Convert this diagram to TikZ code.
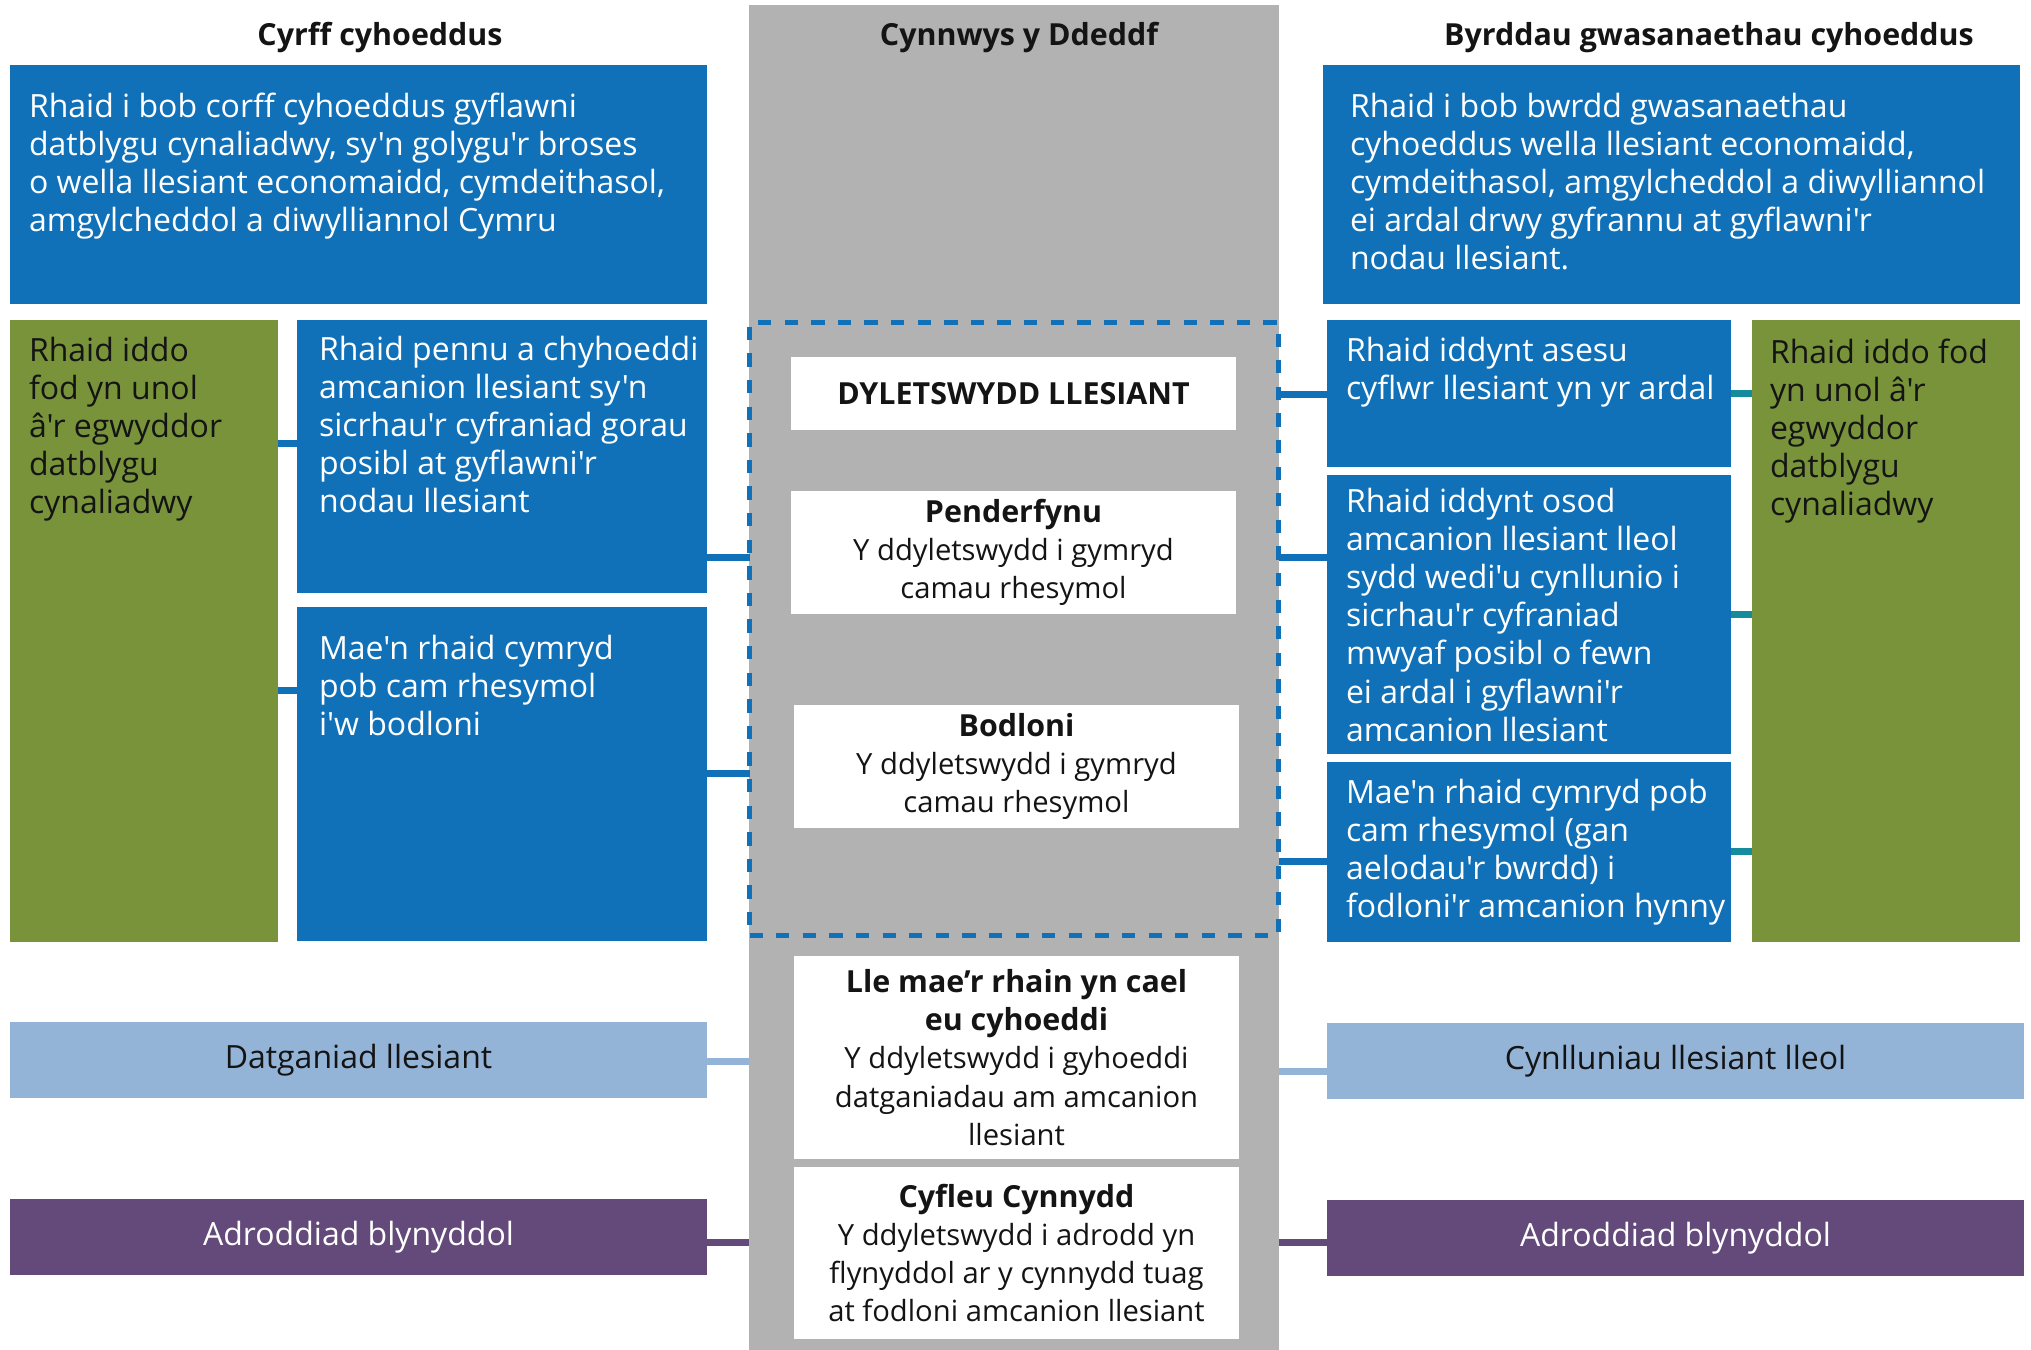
\documentclass[tikz,border=0pt]{standalone}
\usepackage{fontspec}
\setmainfont{Open Sans}[Ligatures=TeXOff]
\definecolor{cblue}{RGB}{16,113,185}
\definecolor{cgreen}{RGB}{120,147,57}
\definecolor{cgray}{RGB}{178,178,178}
\definecolor{clight}{RGB}{148,180,215}
\definecolor{cpurple}{RGB}{99,74,122}
\definecolor{cteal}{RGB}{20,140,155}
\definecolor{ctext}{RGB}{20,20,20}
\newcommand\mkbox[7]{\node[anchor=north west, minimum width={(#4-#2)*0.5pt}, minimum height={(#5-#3)*0.5pt}, #6] (#1) at (#2,#3) {#7};}
\newcommand\fl{\rule{0pt}{14pt}}
\newcommand\hd[1]{{\fontsize{15.2}{19.1}\selectfont\bfseries #1}}
\begin{document}
\begin{tikzpicture}[x=0.5pt,y=-0.5pt,
  every node/.style={font=\fontsize{16}{19.1}\selectfont, inner sep=0pt, outer sep=0pt, text=ctext},
  conn/.style={line width=3.5pt},
  whitebox/.style={fill=white, align=center, font=\fontsize{14.6}{19.1}\selectfont},
  bluebox/.style={fill=cblue},
  greenbox/.style={fill=cgreen},
  lightbox/.style={fill=clight, text=ctext},
  purplebox/.style={fill=cpurple, text=white},
  wtext/.style={anchor=north west, align=left, text=white},
  btext/.style={anchor=north west, align=left, text=ctext},
  header/.style={anchor=base, font=\fontsize{15.2}{19.1}\selectfont\bfseries}]
\useasboundingbox (0,0) rectangle (2031,1350);

% central column
\mkbox{col}{749}{5}{1279}{1350}{fill=cgray}{}
\node[header] (hmid) at (1019,45) {Cynnwys y Ddeddf};
\node[header] (hleft) at (380,45) {Cyrff cyhoeddus};
\node[header] (hright) at (1709,45) {Byrddau gwasanaethau cyhoeddus};

\mkbox{dash}{749.5}{322}{1278.5}{935}{draw=cblue, line width=2.5pt, dash pattern=on 6.65pt off 6.65pt}{}

\mkbox{w1}{791}{357}{1236}{430}{whitebox}{\hd{DYLETSWYDD LLESIANT}}
\mkbox{w2}{791}{491}{1236}{614}{whitebox}{\hd{Penderfynu}\\Y ddyletswydd i gymryd\\camau rhesymol}
\mkbox{w3}{794}{705}{1239}{828}{whitebox}{\hd{Bodloni}\\Y ddyletswydd i gymryd\\camau rhesymol}
\mkbox{w4}{794}{956}{1239}{1159}{whitebox}{\hd{Lle mae’r rhain yn cael}\\\hd{eu cyhoeddi}\\Y ddyletswydd i gyhoeddi\\datganiadau am amcanion\\llesiant}
\mkbox{w5}{794}{1167}{1239}{1339}{whitebox}{\hd{Cyfleu Cynnydd}\\Y ddyletswydd i adrodd yn\\flynyddol ar y cynnydd tuag\\at fodloni amcanion llesiant}

% left side
\mkbox{tl}{10}{65}{707}{304}{bluebox}{}
\mkbox{lg}{10}{320}{278}{942}{greenbox}{}
\mkbox{lb1}{297}{320}{707}{593}{bluebox}{}
\mkbox{lb2}{297}{607}{707}{941}{bluebox}{}
\mkbox{ll}{10}{1022}{707}{1098}{lightbox}{Datganiad llesiant}
\mkbox{lp}{10}{1199}{707}{1275}{purplebox}{Adroddiad blynyddol}

% right side
\mkbox{tr}{1323}{65}{2020}{304}{bluebox}{}
\mkbox{rb1}{1327}{320}{1731}{467}{bluebox}{}
\mkbox{rb2}{1327}{475}{1731}{754}{bluebox}{}
\mkbox{rb3}{1327}{762}{1731}{942}{bluebox}{}
\mkbox{rg}{1752}{320}{2020}{942}{greenbox}{}
\mkbox{rl}{1327}{1023}{2024}{1099}{lightbox}{Cynlluniau llesiant lleol}
\mkbox{rp}{1327}{1200}{2024}{1276}{purplebox}{Adroddiad blynyddol}

% connectors left
\draw[conn, cblue] (lg.east |- 0,443) -- (lb1.west |- 0,443);
\draw[conn, cblue] (lg.east |- 0,690) -- (lb2.west |- 0,690);
\draw[conn, cblue] (lb1.east |- 0,557) -- (dash.west |- 0,557);
\draw[conn, cblue] (lb2.east |- 0,773) -- (dash.west |- 0,773);
\draw[conn, clight] (ll.east |- 0,1061) -- (col.west |- 0,1061);
\draw[conn, cpurple] (lp.east |- 0,1242) -- (col.west |- 0,1242);

% connectors right
\draw[conn, cblue] (dash.east |- 0,394) -- (rb1.west |- 0,394);
\draw[conn, cblue] (dash.east |- 0,557) -- (rb2.west |- 0,557);
\draw[conn, cblue] (dash.east |- 0,861) -- (rb3.west |- 0,861);
\draw[conn, cteal] (rb1.east |- 0,393) -- (rg.west |- 0,393);
\draw[conn, cteal] (rb2.east |- 0,614) -- (rg.west |- 0,614);
\draw[conn, cteal] (rb3.east |- 0,851) -- (rg.west |- 0,851);
\draw[conn, clight] (col.east |- 0,1071) -- (rl.west |- 0,1071);
\draw[conn, cpurple] (col.east |- 0,1242) -- (rp.west |- 0,1242);

% texts
\node[wtext] (ttl) at (29,89) {\fl Rhaid i bob corff cyhoeddus gyflawni\\datblygu cynaliadwy, sy'n golygu'r broses\\o wella llesiant economaidd, cymdeithasol,\\amgylcheddol a diwylliannol Cymru};
\node[btext] (tlg) at (29,333) {\fl Rhaid iddo\\fod yn unol\\â'r egwyddor\\datblygu\\cynaliadwy};
\node[wtext] (tlb1) at (319,332) {\fl Rhaid pennu a chyhoeddi\\amcanion llesiant sy'n\\sicrhau'r cyfraniad gorau\\posibl at gyflawni'r\\nodau llesiant};
\node[wtext] (tlb2) at (319,631) {\fl Mae'n rhaid cymryd\\pob cam rhesymol\\i'w bodloni};

\node[wtext] (ttr) at (1350,89) {\fl Rhaid i bob bwrdd gwasanaethau\\cyhoeddus wella llesiant economaidd,\\cymdeithasol, amgylcheddol a diwylliannol\\ei ardal drwy gyfrannu at gyflawni'r\\nodau llesiant.};
\node[wtext] (trb1) at (1346,333) {\fl Rhaid iddynt asesu\\cyflwr llesiant yn yr ardal};
\node[wtext] (trb2) at (1346,484) {\fl Rhaid iddynt osod\\amcanion llesiant lleol\\sydd wedi'u cynllunio i\\sicrhau'r cyfraniad\\mwyaf posibl o fewn\\ei ardal i gyflawni'r\\amcanion llesiant};
\node[wtext] (trb3) at (1346,775) {\fl Mae'n rhaid cymryd pob\\cam rhesymol (gan\\aelodau'r bwrdd) i\\fodloni'r amcanion hynny};
\node[btext] (trg) at (1770,335) {\fl Rhaid iddo fod\\yn unol â'r\\egwyddor\\datblygu\\cynaliadwy};
\end{tikzpicture}
\end{document}
